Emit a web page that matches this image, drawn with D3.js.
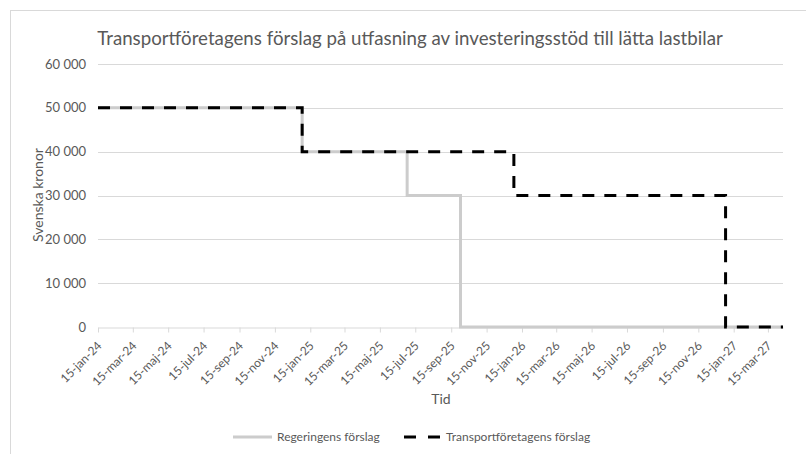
<!DOCTYPE html>
<html>
<head>
<meta charset="utf-8">
<script src="https://cdn.jsdelivr.net/npm/d3@7.9.0/dist/d3.min.js"></script>
<style>
  body { margin: 0; background: #fff; }
  svg { display: block; font-family: Lato, "Open Sans", sans-serif; }
</style>
</head>
<body>
<svg width="806" height="454"></svg>
<script>
// data
const govDates = ['2024-01-15', '2025-01-01', '2025-07-01', '2025-10-01', '2027-04-10'];
const govValues = [50000, 40000, 30000, 0, 0];
const transDates = ['2024-01-15', '2025-01-01', '2026-01-01', '2027-01-01', '2027-04-10'];
const transValues = [50000, 40000, 30000, 0, 0];
const tickDates = ['2024-01-15', '2024-03-15', '2024-05-15', '2024-07-15', '2024-09-15', '2024-11-15',
  '2025-01-15', '2025-03-15', '2025-05-15', '2025-07-15', '2025-09-15', '2025-11-15',
  '2026-01-15', '2026-03-15', '2026-05-15', '2026-07-15', '2026-09-15', '2026-11-15',
  '2027-01-15', '2027-03-15'];
const monthNames = ['jan', 'feb', 'mar', 'apr', 'maj', 'jun', 'jul', 'aug', 'sep', 'okt', 'nov', 'dec'];
const yTicks = [0, 10000, 20000, 30000, 40000, 50000, 60000];

const parse = d3.timeParse('%Y-%m-%d');
const svg = d3.select('svg');
const plotLeft = 98, plotRight = 783, plotTop = 64, plotBottom = 327;

// chart border
svg.append('rect')
  .attr('x', 10.5).attr('y', 10.5)
  .attr('width', 820).attr('height', 470)
  .attr('fill', 'none').attr('stroke', '#d9d9d9');

let x = d3.scaleTime()
  .domain([parse('2024-01-15'), parse('2027-04-10')])
  .range([plotLeft, plotRight]);
let y = d3.scaleLinear().domain([0, 60000]).range([plotBottom, plotTop]);

// gridlines
svg.append('g')
  .selectAll('line')
  .data(yTicks.slice(1))
  .join('line')
  .attr('x1', plotLeft).attr('x2', plotRight)
  .attr('y1', (d) => Math.round(y(d)) + 0.5)
  .attr('y2', (d) => Math.round(y(d)) + 0.5)
  .attr('stroke', '#d9d9d9');

// y labels
svg.append('g')
  .selectAll('text')
  .data(yTicks)
  .join('text')
  .attr('x', 86)
  .attr('y', (d) => y(d) + 4.5)
  .attr('text-anchor', 'end')
  .attr('font-size', 13)
  .attr('fill', '#595959')
  .text((d) => d3.format(',')(d).replace(',', ' '));

// x axis
let fmt = (d) => `${d.getDate()}-${monthNames[d.getMonth()]}-${String(d.getFullYear()).slice(2)}`;
let xAxis = d3.axisBottom(x)
  .tickValues(tickDates.map(parse))
  .tickFormat(fmt)
  .tickSize(5)
  .tickSizeOuter(0);
let gx = svg.append('g')
  .attr('transform', `translate(0,${plotBottom + 0.5})`)
  .call(xAxis);
gx.select('.domain').attr('stroke', '#d9d9d9');
gx.selectAll('.tick line').attr('stroke', '#d9d9d9');
gx.selectAll('.tick text')
  .attr('fill', '#595959')
  .attr('font-size', 12)
  .attr('font-family', 'Lato, sans-serif')
  .attr('text-anchor', 'end')
  .attr('x', 0).attr('y', 0).attr('dy', 0)
  .attr('transform', 'translate(4,19) rotate(-45)');

// series
let line = d3.line()
  .x((d) => x(d.date))
  .y((d) => y(d.value))
  .curve(d3.curveStepAfter);

let gov = govDates.map((d, i) => ({ date: parse(d), value: govValues[i] }));
let trans = transDates.map((d, i) => ({ date: parse(d), value: transValues[i] }));

svg.append('path')
  .attr('d', line(gov))
  .attr('fill', 'none')
  .attr('stroke', '#cccccc')
  .attr('stroke-width', 3);

svg.append('path')
  .attr('d', line(trans))
  .attr('fill', 'none')
  .attr('stroke', '#000')
  .attr('stroke-width', 3)
  .attr('stroke-dasharray', '12,10');

// title
svg.append('text')
  .attr('x', 410).attr('y', 45)
  .attr('text-anchor', 'middle')
  .attr('font-size', 18.7)
  .attr('fill', '#595959')
  .text('Transportföretagens förslag på utfasning av investeringsstöd till lätta lastbilar');

// axis titles
svg.append('text')
  .attr('transform', 'translate(43,195) rotate(-90)')
  .attr('text-anchor', 'middle')
  .attr('font-size', 14)
  .attr('fill', '#595959')
  .text('Svenska kronor');

svg.append('text')
  .attr('x', 441).attr('y', 404)
  .attr('text-anchor', 'middle')
  .attr('font-size', 14)
  .attr('fill', '#595959')
  .text('Tid');

// legend
let legend = svg.append('g');
legend.append('line')
  .attr('x1', 233).attr('x2', 272).attr('y1', 437).attr('y2', 437)
  .attr('stroke', '#cccccc').attr('stroke-width', 3);
legend.append('text')
  .attr('x', 277).attr('y', 441)
  .attr('font-size', 12).attr('fill', '#595959')
  .text('Regeringens förslag');
legend.append('line')
  .attr('x1', 404).attr('x2', 441).attr('y1', 437).attr('y2', 437)
  .attr('stroke', '#000').attr('stroke-width', 3)
  .attr('stroke-dasharray', '12,12');
legend.append('text')
  .attr('x', 446).attr('y', 441)
  .attr('font-size', 12).attr('fill', '#595959')
  .text('Transportföretagens förslag');
</script>
</body>
</html>
